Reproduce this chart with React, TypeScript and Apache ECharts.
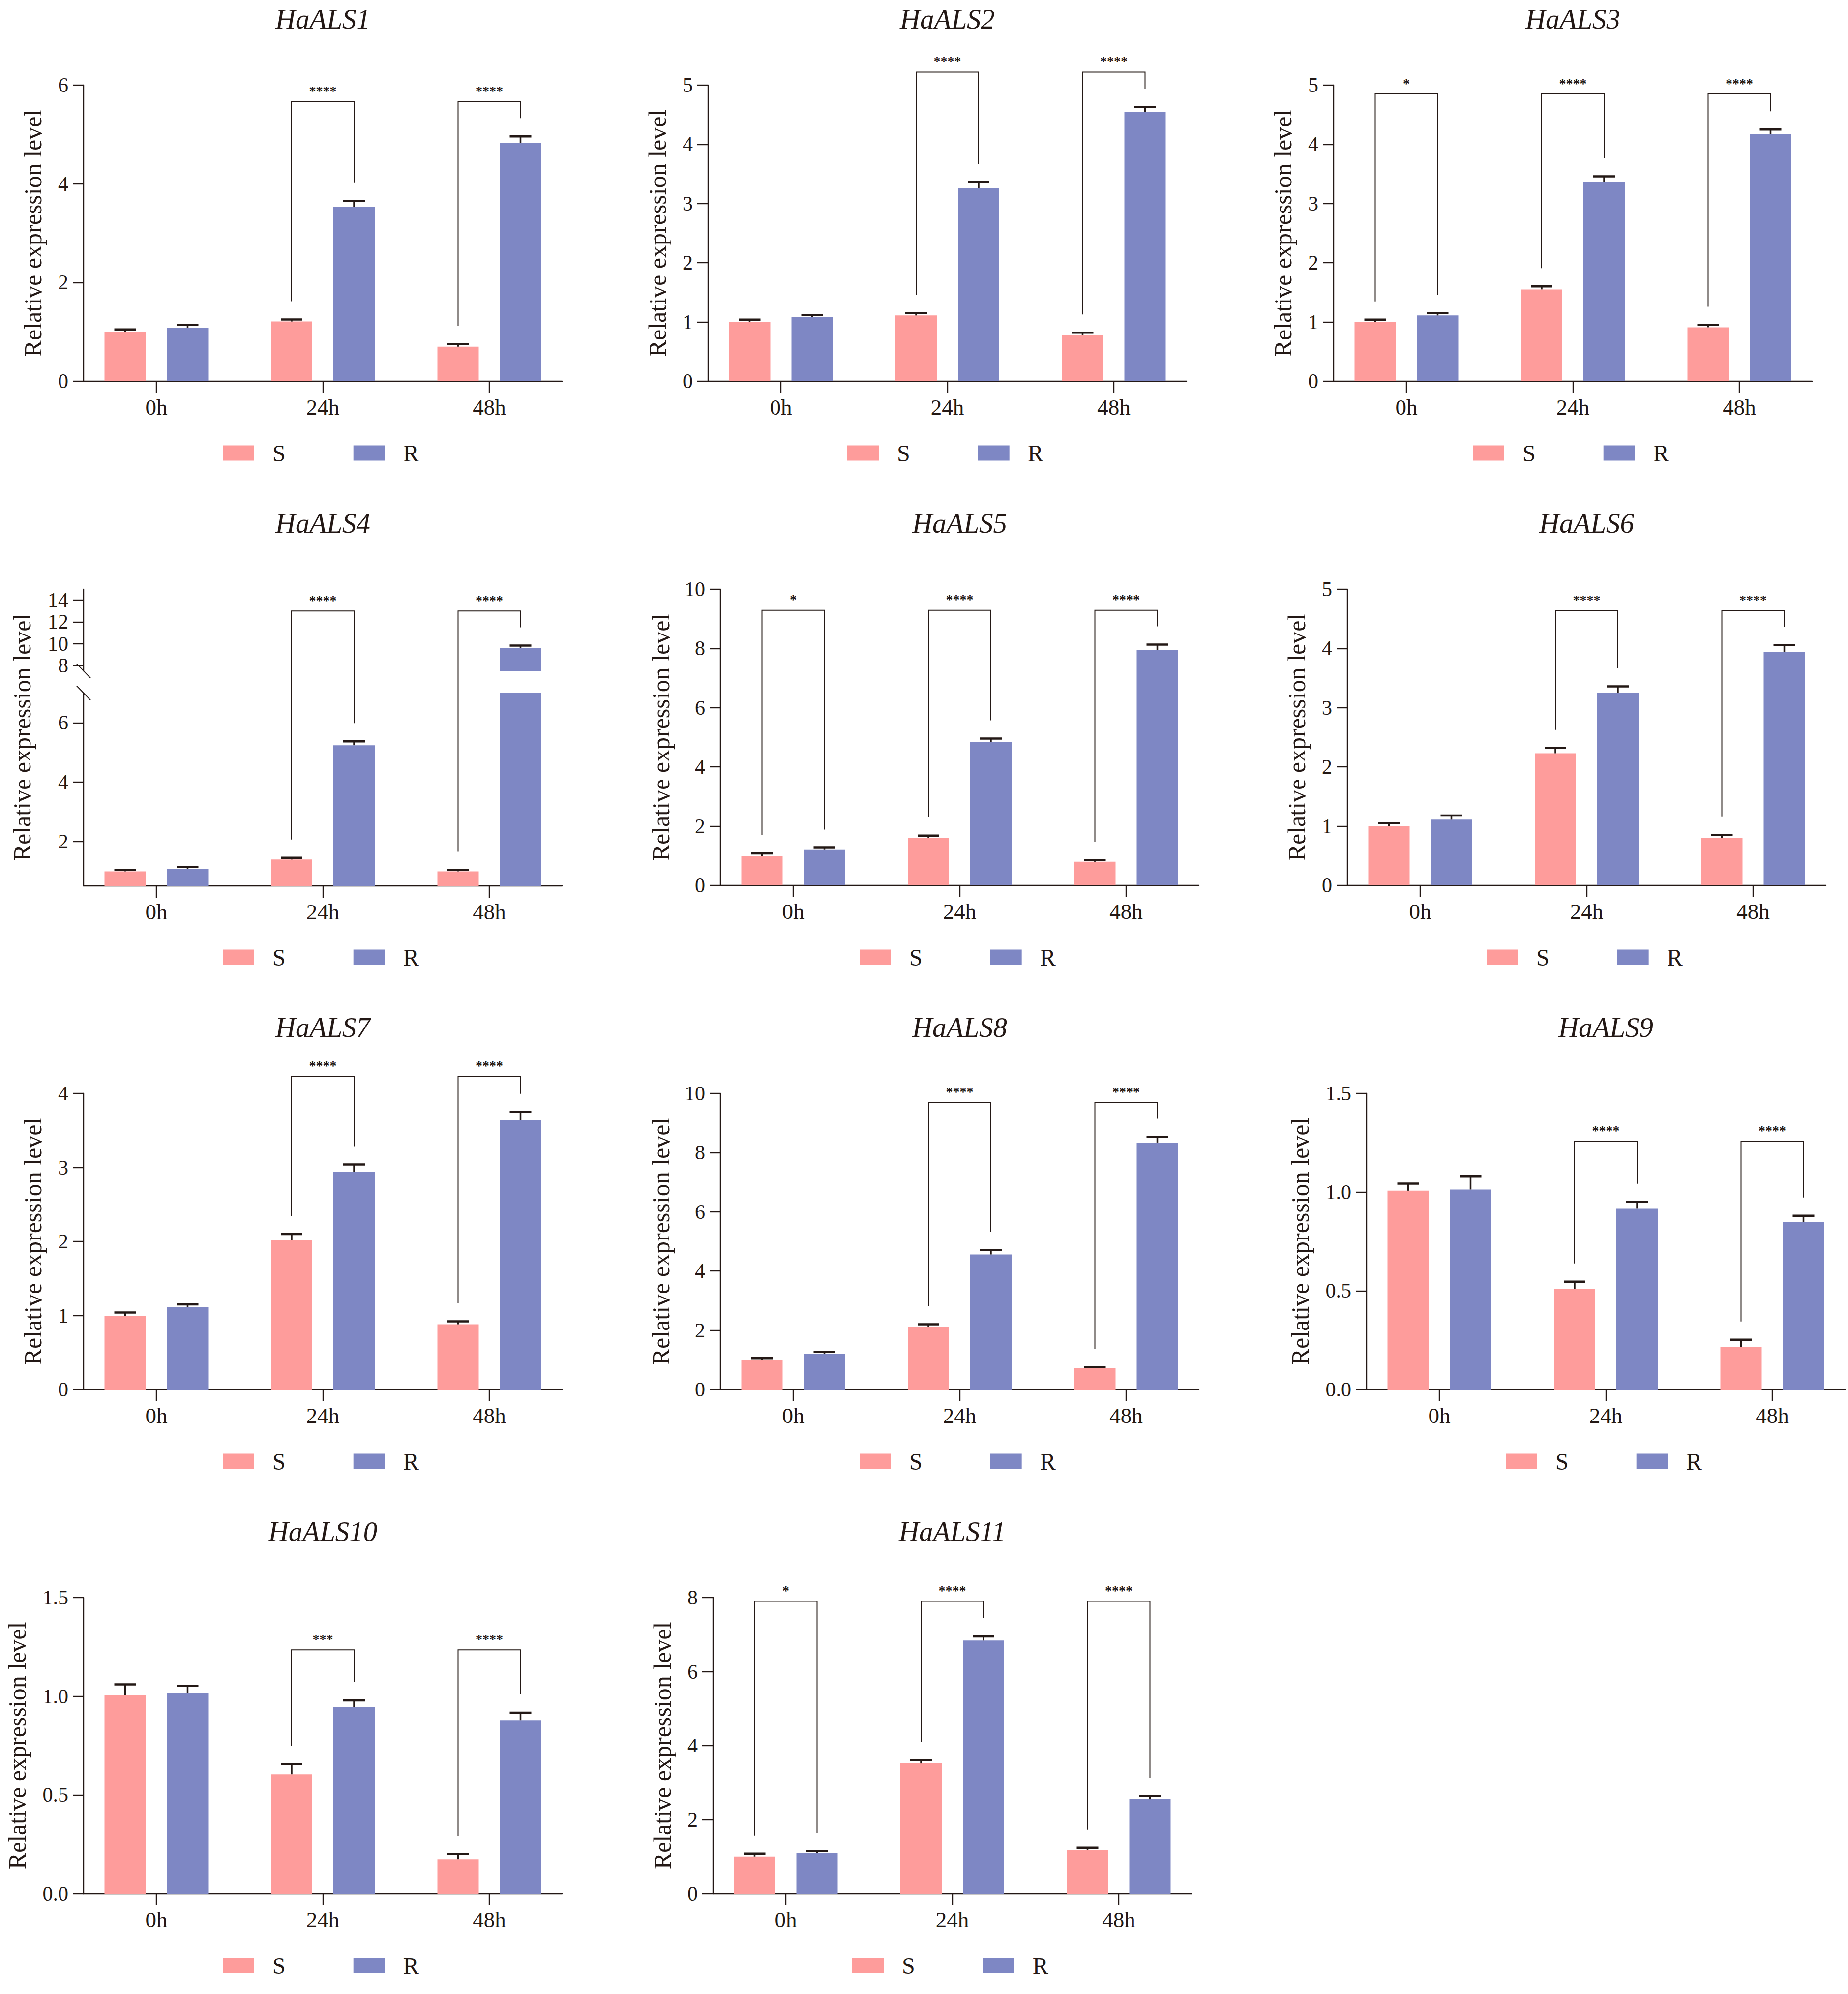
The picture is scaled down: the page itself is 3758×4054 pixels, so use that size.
import React, { useEffect, useRef } from 'react';
import * as echarts from 'echarts';

// ---------------- data ----------------
const GENES = ['HaALS1', 'HaALS2', 'HaALS3', 'HaALS4', 'HaALS5', 'HaALS6', 'HaALS7', 'HaALS8', 'HaALS9', 'HaALS10', 'HaALS11'];
const TIME_POINTS = ['0h', '24h', '48h'];
const GROUPS = ['S', 'R'];

const S_MEAN = [
  [1.0, 1.21, 0.70], [1.0, 1.11, 0.78], [1.0, 1.55, 0.91], [0.99, 1.39, 0.99],
  [0.99, 1.6, 0.8], [1.0, 2.23, 0.8], [0.99, 2.02, 0.88], [1.0, 2.12, 0.72],
  [1.007, 0.51, 0.215], [1.005, 0.605, 0.174], [1.0, 3.52, 1.18],
];
const S_ERR = [
  [0.05, 0.04, 0.05], [0.04, 0.04, 0.04], [0.04, 0.05, 0.04], [0.05, 0.06, 0.05],
  [0.09, 0.08, 0.05], [0.05, 0.09, 0.05], [0.05, 0.08, 0.04], [0.06, 0.08, 0.04],
  [0.036, 0.036, 0.037], [0.055, 0.052, 0.027], [0.08, 0.09, 0.06],
];
const R_MEAN = [
  [1.08, 3.53, 4.83], [1.08, 3.26, 4.55], [1.11, 3.36, 4.17], [1.08, 5.24, 9.6],
  [1.2, 4.84, 7.94], [1.11, 3.25, 3.94], [1.11, 2.94, 3.64], [1.21, 4.56, 8.34],
  [1.013, 0.916, 0.849], [1.015, 0.946, 0.879], [1.1, 6.84, 2.55],
];
const R_ERR = [
  [0.06, 0.12, 0.13], [0.04, 0.10, 0.08], [0.04, 0.10, 0.08], [0.06, 0.13, 0.23],
  [0.07, 0.12, 0.19], [0.07, 0.11, 0.12], [0.04, 0.10, 0.11], [0.06, 0.15, 0.19],
  [0.068, 0.034, 0.031], [0.038, 0.033, 0.038], [0.05, 0.11, 0.09],
];
const SIG = [
  ['', '****', '****'], ['', '****', '****'], ['*', '****', '****'], ['', '****', '****'],
  ['*', '****', '****'], ['', '****', '****'], ['', '****', '****'], ['', '****', '****'],
  ['', '****', '****'], ['', '***', '****'], ['*', '****', '****'],
];
const BRACKET_Y = [5.67, 5.22, 4.85, 13.0, 9.29, 4.64, 4.23, 9.7, 1.257, 1.235, 7.9];
const Y_MAX = [6, 5, 5, 15, 10, 5, 4, 10, 1.5, 1.5, 8];
const Y_STEP = [2, 1, 1, 2, 2, 1, 1, 2, 0.5, 0.5, 2];
const Y_DECIMALS = [0, 0, 0, 0, 0, 0, 0, 0, 1, 1, 0];
// broken y axis of HaALS4
const BROKEN_PANEL = 3;
const BREAK_LOW_RANGE = [0.5, 7];
const BREAK_HIGH_RANGE = [7.5, 15];
const BREAK_LOW_TICKS = [2, 4, 6];
const BREAK_HIGH_TICKS = [8, 10, 12, 14];

// ---------------- layout / style ----------------
const W = 3758;
const H = 4054;
const PANEL_C0 = [318, 1588, 2860, 318, 1613, 2888, 318, 1613, 2927, 318, 1598];
const ROW_TOP = [173, 1198, 2223, 3248];
const PLOT_H = 602;
const CAT_STEP = 338.5;
const SIDE = 148;
const NAME_GAP = [78, 78, 78, 100, 96, 78, 78, 96, 110, 110, 78];
const BAR_W = 84;
const BAR_GAP_PX = 43;
const HALF = (BAR_W + BAR_GAP_PX) / 2;
const UPPER_H = 166;
const LOWER_OFF = 211;
const LOWER_H = 392;
const LEG_GAP = 37;

const INK = '#231815';
const S_COLOR = '#FE9C9B';
const R_COLOR = '#7E87C4';
const FONT = "'Liberation Serif', 'Times New Roman', serif";
const XMIN = -SIDE / CAT_STEP;
const XMAX = 2 + SIDE / CAT_STEP;

type Seg = { axis: number; min: number; max: number };

function errorRender(side: number) {
  return (params: any, api: any) => {
    const xv = api.value(0);
    const m = api.value(1);
    const e = api.value(2);
    const base = api.coord([xv, m]);
    const tip = api.coord([xv, m + e]);
    const x = base[0] + side * HALF;
    return {
      type: 'group',
      children: [
        { type: 'line', shape: { x1: x, y1: base[1], x2: x, y2: tip[1] }, style: { stroke: INK, lineWidth: 3.5 } },
        { type: 'line', shape: { x1: x - 22, y1: tip[1], x2: x + 22, y2: tip[1] }, style: { stroke: INK, lineWidth: 4.5 } },
      ],
    };
  };
}

function buildOption() {
  const grid: any[] = [];
  const xAxis: any[] = [];
  const yAxis: any[] = [];
  const series: any[] = [];
  const legend: any[] = [];
  const segsByPanel: Seg[][] = [];

  GENES.forEach((_, p) => {
    const row = Math.floor(p / 3);
    const T = ROW_TOP[row];
    const c0 = PANEL_C0[p];
    const left = c0 - SIDE;
    const width = 2 * SIDE + 2 * CAT_STEP;
    const c1 = c0 + CAT_STEP;

    const segDefs: any[] = p === BROKEN_PANEL
      ? [
          { top: T, height: UPPER_H, min: BREAK_HIGH_RANGE[0], max: BREAK_HIGH_RANGE[1], ticks: BREAK_HIGH_TICKS, showX: false, name: false },
          { top: T + LOWER_OFF, height: LOWER_H, min: BREAK_LOW_RANGE[0], max: BREAK_LOW_RANGE[1], ticks: BREAK_LOW_TICKS, showX: true, name: false },
        ]
      : [{ top: T, height: PLOT_H, min: 0, max: Y_MAX[p], interval: Y_STEP[p], showX: true, name: true }];

    const segs: Seg[] = [];
    segDefs.forEach((sd) => {
      const gi = grid.length;
      grid.push({ left, top: sd.top, width, height: sd.height, outerBoundsMode: 'none', containLabel: false });
      xAxis.push({
        type: 'value',
        gridIndex: gi,
        show: sd.showX,
        min: XMIN,
        max: XMAX,
        splitLine: { show: false },
        axisLine: { show: true, onZero: false, lineStyle: { color: INK, width: 2.4 } },
        axisTick: { show: true, customValues: [0, 1, 2], length: 24, lineStyle: { color: INK, width: 2.4 } },
        axisLabel: {
          customValues: [0, 1, 2],
          formatter: (v: number) => TIME_POINTS[Math.round(v)],
          fontSize: 45,
          fontFamily: FONT,
          color: INK,
          margin: 30,
        },
      });
      const yAx: any = {
        type: 'value',
        gridIndex: gi,
        min: sd.min,
        max: sd.max,
        splitLine: { show: false },
        axisLine: { show: true, onZero: false, lineStyle: { color: INK, width: 2.4 } },
        axisTick: { show: true, length: 22, lineStyle: { color: INK, width: 2.4 } },
        axisLabel: {
          fontSize: 42,
          fontFamily: FONT,
          color: INK,
          margin: 31,
          formatter: (v: number) => v.toFixed(Y_DECIMALS[p]),
        },
      };
      if (sd.ticks) {
        yAx.axisTick.customValues = sd.ticks;
        yAx.axisLabel.customValues = sd.ticks;
      } else {
        yAx.interval = sd.interval;
      }
      if (sd.name) {
        yAx.name = 'Relative expression level';
        yAx.nameLocation = 'middle';
        yAx.nameGap = NAME_GAP[p];
        yAx.nameTextStyle = { fontSize: 50, fontFamily: FONT, color: INK };
      }
      yAxis.push(yAx);

      const inSeg = (m: number) => m >= sd.min && m <= sd.max;
      series.push({
        type: 'bar', name: 'S', xAxisIndex: gi, yAxisIndex: gi, barWidth: BAR_W,
        barGap: (BAR_GAP_PX / BAR_W) * 100 + '%', clip: true, z: 2,
        itemStyle: { color: S_COLOR },
        data: TIME_POINTS.map((_, i) => [i, S_MEAN[p][i]]),
      });
      series.push({
        type: 'bar', name: 'R', xAxisIndex: gi, yAxisIndex: gi, barWidth: BAR_W,
        barGap: (BAR_GAP_PX / BAR_W) * 100 + '%', clip: true, z: 2,
        itemStyle: { color: R_COLOR },
        data: TIME_POINTS.map((_, i) => [i, R_MEAN[p][i]]),
      });
      series.push({
        type: 'custom', name: 'S error', xAxisIndex: gi, yAxisIndex: gi, z: 3,
        renderItem: errorRender(-1), encode: { x: 0, y: 1 },
        data: TIME_POINTS.map((_, i) => [i, S_MEAN[p][i], S_ERR[p][i]]).filter((d) => inSeg(d[1])),
      });
      series.push({
        type: 'custom', name: 'R error', xAxisIndex: gi, yAxisIndex: gi, z: 3,
        renderItem: errorRender(1), encode: { x: 0, y: 1 },
        data: TIME_POINTS.map((_, i) => [i, R_MEAN[p][i], R_ERR[p][i]]).filter((d) => inSeg(d[1])),
      });
      segs.push({ axis: gi, min: sd.min, max: sd.max });
    });

    if (p === BROKEN_PANEL) {
      // an empty grid spanning the whole broken axis, only to carry the axis name
      const gi = grid.length;
      grid.push({ left, top: T, width, height: PLOT_H, outerBoundsMode: 'none', containLabel: false });
      xAxis.push({ type: 'value', gridIndex: gi, show: false, min: 0, max: 1 });
      yAxis.push({
        type: 'value', gridIndex: gi, min: 0, max: 1,
        axisLine: { show: false }, axisTick: { show: false }, axisLabel: { show: false }, splitLine: { show: false },
        name: 'Relative expression level', nameLocation: 'middle', nameGap: NAME_GAP[p],
        nameTextStyle: { fontSize: 50, fontFamily: FONT, color: INK },
      });
    }

    legend.push({
      left: c1 - 203.5,
      top: T + 724,
      orient: 'horizontal',
      padding: 0,
      data: GROUPS,
      icon: 'rect',
      itemWidth: 64,
      itemHeight: 31,
      itemGap: 138,
      selectedMode: false,
      textStyle: { fontSize: 48, fontFamily: FONT, color: INK, padding: [0, 0, 0, 32] },
    });
    segsByPanel.push(segs);
  });

  return {
    option: { animation: false, backgroundColor: '#ffffff', grid, xAxis, yAxis, series, legend },
    segsByPanel,
  };
}

function buildGraphics(chart: any, segsByPanel: Seg[][]) {
  const els: any[] = [];
  const toPx = (p: number, x: number, v: number) => {
    const segs = segsByPanel[p];
    let seg = segs[segs.length - 1];
    if (segs.length > 1 && v >= segs[0].min) seg = segs[0];
    return chart.convertToPixel({ xAxisIndex: seg.axis, yAxisIndex: seg.axis }, [x, v]);
  };

  GENES.forEach((gene, p) => {
    const row = Math.floor(p / 3);
    const T = ROW_TOP[row];
    const c1 = PANEL_C0[p] + CAT_STEP;
    els.push({
      type: 'text', x: c1, y: T - 135, silent: true,
      style: { text: gene, fill: INK, font: `italic 57px ${FONT}`, align: 'center', verticalAlign: 'middle' },
    });

    TIME_POINTS.forEach((_, i) => {
      const mark = SIG[p][i];
      if (!mark) return;
      const top = toPx(p, i, BRACKET_Y[p]);
      const sTip = toPx(p, i, S_MEAN[p][i] + S_ERR[p][i]);
      const rTip = toPx(p, i, R_MEAN[p][i] + R_ERR[p][i]);
      const xs = top[0] - HALF;
      const xr = top[0] + HALF;
      els.push({
        type: 'polyline', silent: true,
        shape: { points: [[xs, sTip[1] - LEG_GAP], [xs, top[1]], [xr, top[1]], [xr, rTip[1] - LEG_GAP]] },
        style: { stroke: INK, lineWidth: 2, fill: null },
      });
      els.push({
        type: 'text', x: top[0], y: top[1] - 22, silent: true,
        style: { text: mark, fill: INK, font: `bold 28px ${FONT}`, align: 'center', verticalAlign: 'middle' },
      });
    });

    if (p === BROKEN_PANEL) {
      const upEnd = toPx(p, XMIN, BREAK_HIGH_RANGE[0]);
      const lowEnd = toPx(p, XMIN, BREAK_LOW_RANGE[1] - 0.0001);
      [upEnd, lowEnd].forEach((pt) => {
        els.push({
          type: 'line', silent: true,
          shape: { x1: pt[0] - 14, y1: pt[1] - 14.5, x2: pt[0] + 14, y2: pt[1] + 14.5 },
          style: { stroke: INK, lineWidth: 2 },
        });
      });
    }
  });
  return els;
}

export default function App() {
  const ref = useRef<HTMLDivElement>(null);
  useEffect(() => {
    document.body.style.margin = '0';
    document.body.style.overflow = 'hidden';
    const chart = echarts.init(ref.current as HTMLDivElement, null, { renderer: 'svg' });
    const { option, segsByPanel } = buildOption();
    chart.setOption(option as any);
    chart.setOption({ graphic: { elements: buildGraphics(chart, segsByPanel) } } as any);
    return () => chart.dispose();
  }, []);
  return <div ref={ref} style={{ width: W, height: H, background: '#ffffff' }} />;
}
